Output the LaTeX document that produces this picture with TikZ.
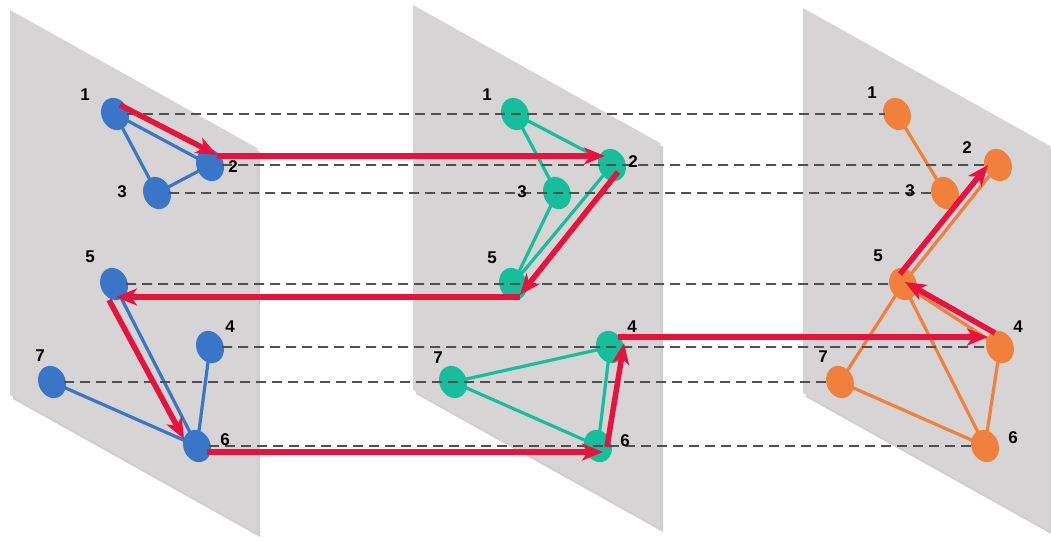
\documentclass[tikz,border=0pt]{standalone}
\usepackage{fontspec}
\setmainfont{Liberation Sans}
\usetikzlibrary{arrows.meta,calc,shapes.geometric}
\definecolor{planegray}{RGB}{214,212,212}
\definecolor{shadowgray}{RGB}{150,148,148}
\definecolor{nblue}{RGB}{58,118,200}
\definecolor{nteal}{RGB}{22,190,155}
\definecolor{norange}{RGB}{240,128,60}
\definecolor{rarrow}{RGB}{232,18,60}
\definecolor{dgray}{RGB}{80,80,80}
\begin{document}
\begin{tikzpicture}[x=1pt,y=-1pt,
  plane/.style={fill=planegray},
  planeshadow/.style={fill=shadowgray,opacity=0.45},
  vert/.style={ellipse,minimum width=27pt,minimum height=33pt,inner sep=0pt,rotate=22,fill=#1},
  gedge/.style={draw=#1,line width=3.2pt},
  guide/.style={draw=dgray,line width=1.8pt,dash pattern=on 10pt off 6pt},
  redarr/.style={draw=rarrow,line width=5.5pt,-{Stealth[length=21pt,width=17pt,inset=6pt]}},
  lab/.style={font=\fontsize{17}{17}\selectfont\bfseries,text=black,inner sep=0pt}
]
\useasboundingbox (0,0) rectangle (1051,541);
% planes
\foreach \px/\py in {10/10,413/5,803/8}{
  \fill[planeshadow] (\px+3,\py+4) -- (\px+250,\py+142) -- (\px+250,\py+527) -- (\px+3,\py+389) -- cycle;
  \fill[plane] (\px,\py) -- (\px+247,\py+138) -- (\px+247,\py+523) -- (\px,\py+385) -- cycle;
}
% vertex positions
\path
 (115,114) coordinate (pa1) (210,165) coordinate (pa2) (157,193) coordinate (pa3)
 (114,284) coordinate (pa5) (210,347) coordinate (pa4) (52,382) coordinate (pa7) (197,446) coordinate (pa6)
 (515,114) coordinate (pb1) (612,165) coordinate (pb2) (557,193) coordinate (pb3)
 (513,284) coordinate (pb5) (610,347) coordinate (pb4) (453,382) coordinate (pb7) (598,446) coordinate (pb6)
 (897,114) coordinate (pc1) (998,165) coordinate (pc2) (945,193) coordinate (pc3)
 (903,284) coordinate (pc5) (1000,347) coordinate (pc4) (840,382) coordinate (pc7) (985,446) coordinate (pc6);
% edges
\draw[gedge=nblue] (pa1) -- (pa2) (pa1) -- (pa3) (pa3) -- (pa2)
  (pa5) -- (pa6) (pa4) -- (pa6) (pa7) -- (pa6);
\draw[gedge=nteal] (pb1) -- (pb2) (pb1) -- (pb3) (pb3) -- (pb5) (pb2) -- (pb5)
  (pb7) -- (pb4) (pb7) -- (pb6) (pb6) -- (pb4);
\draw[gedge=norange] (pc1) -- (pc3) (pc2) -- (pc5) (pc5) -- (pc4) (pc5) -- (pc7)
  (pc5) -- (pc6) (pc4) -- (pc6) (pc7) -- (pc6);
% vertices
\foreach \i in {1,...,7}{
  \node[vert=nblue] (a\i) at (pa\i) {};
  \node[vert=nteal] (b\i) at (pb\i) {};
  \node[vert=norange] (c\i) at (pc\i) {};
}
% guide lines
\draw[guide] ($(a1)+(12,0)$) -- ($(c1)+(-12,0)$);
\draw[guide] ($(a2)+(12,0)$) -- (c2);
\draw[guide] ($(a3)+(12,0)$) -- (c3);
\draw[guide] ($(a5)+(12,0)$) -- (c5);
\draw[guide] ($(a4)+(12,0)$) -- (c4);
\draw[guide] ($(a7)+(12,0)$) -- (c7);
\draw[guide] ($(a6)+(12,0)$) -- ($(c6)+(-8,0)$);
% red arrows
\draw[redarr] ($(a1)+(5,-9)$) -- ($(a2)+(7,-10)$);
\draw[redarr] ($(a2)+(7,-9)$) -- ($(b2)+(-7,-9)$);
\draw[redarr] ($(b2)+(6,7)$) -- ($(b5)+(7,11)$);
\draw[redarr] ($(b5)+(7,13)$) -- ($(a5)+(2,13)$);
\draw[redarr] ($(a5)+(-5,16)$) -- ($(a6)+(-13,-7)$);
\draw[redarr] ($(a6)+(10,6)$) -- ($(b6)+(5,6)$);
\draw[redarr] ($(b6)+(9,1)$) -- ($(b4)+(14,-4)$);
\draw[redarr] ($(b4)+(8,-10)$) -- ($(c4)+(-12,-10)$);
\draw[redarr] ($(c4)+(-5,-14)$) -- ($(c5)+(2,-2)$);
\draw[redarr] ($(c5)+(-3,-10)$) -- ($(c2)+(-10,0)$);
% labels
\node[lab] (la1) at (85,95) {1};
\node[lab] (la2) at (233,167) {2};
\node[lab] (la3) at (122,192) {3};
\node[lab] (la5) at (90,257) {5};
\node[lab] (la4) at (230,327) {4};
\node[lab] (la7) at (40,356) {7};
\node[lab] (la6) at (225,440) {6};
\node[lab] (lb1) at (487,95) {1};
\node[lab] (lb2) at (633,162) {2};
\node[lab] (lb3) at (522,192) {3};
\node[lab] (lb5) at (492,258) {5};
\node[lab] (lb4) at (632,327) {4};
\node[lab] (lb7) at (438,358) {7};
\node[lab] (lb6) at (625,441) {6};
\node[lab] (lc1) at (872,93) {1};
\node[lab] (lc2) at (967,148) {2};
\node[lab] (lc3) at (910,191) {3};
\node[lab] (lc5) at (878,256) {5};
\node[lab] (lc4) at (1018,327) {4};
\node[lab] (lc7) at (823,357) {7};
\node[lab] (lc6) at (1013,438) {6};
\end{tikzpicture}
\end{document}
